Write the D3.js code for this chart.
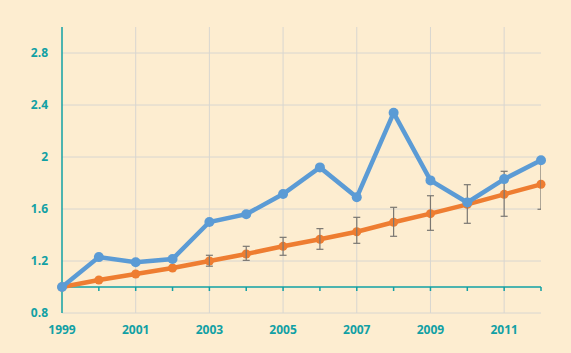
<!DOCTYPE html>
<html lang="en">
  <head>
    <meta charset="UTF-8" />
    <title>Chart</title>
    <script src="https://cdn.jsdelivr.net/npm/d3@7"></script>
    <style>
      body { margin: 0; background: #fdedd0; }
      svg text { font-family: "Open Sans", sans-serif; font-weight: 700; fill: #11a0a4; font-size: 12px; }
    </style>
  </head>
  <body>
    <div id="wrapper"></div>
    <script>
      const years = [1999, 2000, 2001, 2002, 2003, 2004, 2005, 2006, 2007, 2008, 2009, 2010, 2011, 2012]
      const blueValues = [1.0, 1.23, 1.19, 1.215, 1.5, 1.56, 1.715, 1.92, 1.69, 2.34, 1.82, 1.65, 1.83, 1.975]
      const orangeValues = [1.0, 1.054, 1.1, 1.146, 1.2, 1.254, 1.313, 1.367, 1.425, 1.498, 1.564, 1.636, 1.713, 1.79]
      const errLow = [null, null, null, null, 1.16, 1.205, 1.244, 1.29, 1.336, 1.39, 1.436, 1.49, 1.544, 1.598]
      const errHigh = [null, null, null, null, 1.244, 1.313, 1.382, 1.449, 1.536, 1.613, 1.702, 1.787, 1.89, 1.975]
      const yTicks = [0.8, 1.2, 1.6, 2, 2.4, 2.8]
      const xTickLabels = [1999, 2001, 2003, 2005, 2007, 2009, 2011]

      const dms = {
        width: 571,
        height: 353,
        margin: { top: 27, left: 62, right: 30, bottom: 40 }
      }
      dms.boundedWidth = dms.width - dms.margin.left - dms.margin.right
      dms.boundedHeight = dms.height - dms.margin.top - dms.margin.bottom

      const svg = d3.select('#wrapper').append('svg')
        .attr('width', dms.width)
        .attr('height', dms.height)
      svg.append('rect').attr('width', dms.width).attr('height', dms.height).attr('fill', '#fdedd0')

      const g = svg.append('g')
        .attr('transform', `translate(${dms.margin.left},${dms.margin.top})`)

      const xScale = d3.scaleLinear().domain([1999, 2012]).range([0, dms.boundedWidth])
      const yScale = d3.scaleLinear().domain([0.8, 3.0]).range([dms.boundedHeight, 0])

      // grid
      g.append('g').selectAll('line').data(yTicks).join('line')
        .attr('x1', 0).attr('x2', dms.boundedWidth)
        .attr('y1', d => yScale(d)).attr('y2', d => yScale(d))
        .attr('stroke', '#d8d6d0').attr('stroke-width', 1)
      g.append('g').selectAll('line').data(xTickLabels.slice(1)).join('line')
        .attr('x1', d => xScale(d)).attr('x2', d => xScale(d))
        .attr('y1', 0).attr('y2', dms.boundedHeight)
        .attr('stroke', '#d8d6d0').attr('stroke-width', 1)

      // y axis
      g.append('line')
        .attr('x1', 0).attr('x2', 0).attr('y1', 0).attr('y2', dms.boundedHeight)
        .attr('stroke', '#11a0a4').attr('stroke-width', 1.5)
      g.append('g').selectAll('text').data(yTicks).join('text')
        .attr('x', -14).attr('y', d => yScale(d)).attr('dy', '0.35em')
        .attr('text-anchor', 'end')
        .text(d => d)

      // x axis at 1.0
      const xAxisY = yScale(1.0)
      g.append('line')
        .attr('x1', 0).attr('x2', dms.boundedWidth).attr('y1', xAxisY).attr('y2', xAxisY)
        .attr('stroke', '#11a0a4').attr('stroke-width', 1.5)
      g.append('g').selectAll('line').data(years).join('line')
        .attr('x1', d => xScale(d)).attr('x2', d => xScale(d))
        .attr('y1', xAxisY).attr('y2', xAxisY + 4)
        .attr('stroke', '#11a0a4').attr('stroke-width', 1.5)
      g.append('g').selectAll('text').data(xTickLabels).join('text')
        .attr('x', d => xScale(d)).attr('y', dms.boundedHeight + 21)
        .attr('text-anchor', 'middle')
        .text(d => d)

      const line = d3.line()
        .x((d, i) => xScale(years[i]))
        .y(d => yScale(d))

      // orange series
      g.append('path').attr('d', line(orangeValues))
        .attr('fill', 'none').attr('stroke', '#ee7d31').attr('stroke-width', 4.5)
      g.append('g').selectAll('circle').data(orangeValues).join('circle')
        .attr('cx', (d, i) => xScale(years[i])).attr('cy', d => yScale(d))
        .attr('r', 4.5).attr('fill', '#ee7d31')

      // error bars
      svg.append('clipPath').attr('id', 'clip').append('rect')
        .attr('x', -5).attr('y', -5).attr('width', dms.boundedWidth + 5).attr('height', dms.boundedHeight + 10)
      const eb = g.append('g').attr('clip-path', 'url(#clip)')
        .attr('stroke', '#7a7772').attr('stroke-width', 1.2)
      years.forEach((yr, i) => {
        if (errLow[i] == null) return
        const x = xScale(yr)
        eb.append('line').attr('x1', x).attr('x2', x).attr('y1', yScale(errLow[i])).attr('y2', yScale(errHigh[i]))
        eb.append('line').attr('x1', x - 3.5).attr('x2', x + 3.5).attr('y1', yScale(errLow[i])).attr('y2', yScale(errLow[i]))
        eb.append('line').attr('x1', x - 3.5).attr('x2', x + 3.5).attr('y1', yScale(errHigh[i])).attr('y2', yScale(errHigh[i]))
      })

      // blue series
      g.append('path').attr('d', line(blueValues))
        .attr('fill', 'none').attr('stroke', '#5b9bd5').attr('stroke-width', 4.5)
      g.append('g').selectAll('circle').data(blueValues).join('circle')
        .attr('cx', (d, i) => xScale(years[i])).attr('cy', d => yScale(d))
        .attr('r', 5).attr('fill', '#5b9bd5')
    </script>
  </body>
</html>
